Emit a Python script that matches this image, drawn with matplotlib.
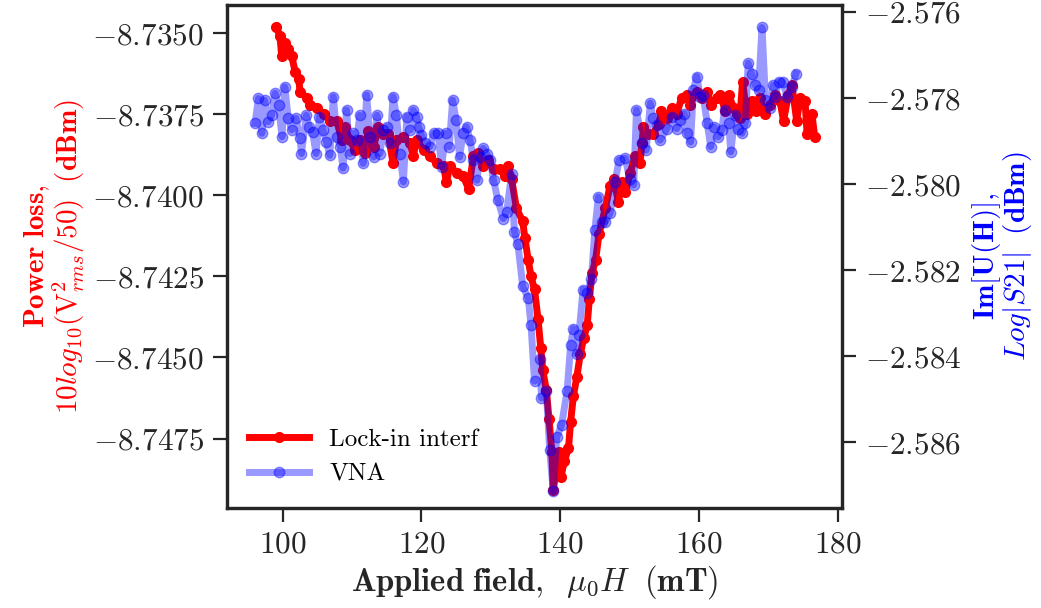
"""
Lock-in interferometer power loss vs VNA transmission across the FMR dip.
"""

import matplotlib
matplotlib.use('Agg')
import matplotlib.pyplot as plt

# Lock-in interf (left axis, dBm)
field_lockin = [99.1, 99.6, 99.85, 100.3, 100.8, 101.3, 101.8, 102.3, 102.5, 103.5,
                103.9, 104.9, 105.9, 106.8, 107.8, 108.5, 109.0, 109.7, 110.4, 111.1,
                111.9, 112.3, 113.1, 113.8, 114.5, 115.2, 115.9, 116.4, 117.4, 118.4,
                118.8, 119.3, 120.3, 121.2, 122.2, 123.2, 123.6, 124.1, 125.1, 126.0,
                126.8, 127.5, 128.2, 128.9, 129.6, 130.4, 131.3, 132.1, 132.5, 133.0,
                133.7, 134.6, 134.9, 135.4, 135.8, 136.3, 136.8, 137.2, 137.5, 138.0,
                138.4, 138.8, 139.0, 139.8, 140.1, 140.6, 141.2, 141.5, 141.9, 142.4,
                142.9, 143.4, 143.9, 144.2, 144.6, 145.1, 145.6, 146.5, 147.2, 147.7,
                148.4, 148.9, 149.4, 150.1, 150.8, 151.5, 151.8, 152.0, 152.7, 153.4,
                154.2, 154.6, 155.4, 156.1, 156.8, 157.5, 158.3, 158.7, 159.7, 160.4,
                161.1, 161.8, 162.6, 163.1, 163.8, 164.3, 165.0, 165.5, 165.9, 166.3,
                166.9, 167.6, 168.3, 168.8, 169.5, 170.3, 171.0, 171.7, 172.2, 172.9,
                173.4, 174.1, 174.6, 175.3, 175.6, 176.3, 176.7]
power_lockin = [-8.7348, -8.7351, -8.7357, -8.7353, -8.7355, -8.7357, -8.7362, -8.7364, -8.7368, -8.7370,
                -8.7372, -8.7373, -8.7375, -8.7377, -8.7377, -8.7383, -8.7379, -8.7383, -8.7386, -8.7383,
                -8.7387, -8.7380, -8.7385, -8.7379, -8.7381, -8.7381, -8.7390, -8.7383, -8.7382, -8.7384,
                -8.7388, -8.7383, -8.7386, -8.7388, -8.7390, -8.7391, -8.7396, -8.7391, -8.7393, -8.7394,
                -8.7398, -8.7388, -8.7387, -8.7391, -8.7389, -8.7392, -8.7392, -8.7394, -8.7391, -8.7395,
                -8.7404, -8.7408, -8.7413, -8.7420, -8.7425, -8.7429, -8.7438, -8.7447, -8.7454, -8.7460,
                -8.7469, -8.7479, -8.7491, -8.7479, -8.7487, -8.7482, -8.7478, -8.7470, -8.7462, -8.7456,
                -8.7449, -8.7444, -8.7440, -8.7432, -8.7424, -8.7420, -8.7412, -8.7404, -8.7397, -8.7395,
                -8.7402, -8.7396, -8.7399, -8.7393, -8.7388, -8.7390, -8.7384, -8.7379, -8.7381, -8.7381,
                -8.7378, -8.7374, -8.7376, -8.7373, -8.7375, -8.7370, -8.7369, -8.7372, -8.7368, -8.7370,
                -8.7368, -8.7372, -8.7370, -8.7369, -8.7374, -8.7369, -8.7373, -8.7375, -8.7376, -8.7365,
                -8.7375, -8.7371, -8.7374, -8.7370, -8.7375, -8.7372, -8.7369, -8.7371, -8.7377, -8.7369,
                -8.7366, -8.7377, -8.7370, -8.7371, -8.7381, -8.7375, -8.7382]

# VNA (right axis, dBm)
field_vna = [96.0, 96.5, 97.0, 97.4, 97.9, 98.4, 98.9, 99.4, 99.9, 100.3,
             100.8, 101.3, 101.9, 102.5, 102.7, 103.4, 103.8, 104.3, 104.8, 105.3,
             105.8, 106.3, 106.8, 107.3, 107.8, 108.3, 108.7, 109.2, 109.7, 110.2,
             110.7, 111.1, 111.6, 112.1, 112.6, 113.1, 113.6, 114.0, 114.5, 115.0,
             115.5, 115.9, 116.4, 116.9, 117.4, 117.9, 118.4, 118.8, 119.3, 119.6,
             120.0, 120.5, 121.2, 121.8, 122.4, 122.9, 123.5, 124.0, 124.5, 125.0,
             125.5, 126.0, 126.5, 127.0, 127.5, 128.0, 128.4, 128.9, 129.4, 129.9,
             130.4, 131.0, 131.8, 132.3, 133.0, 133.4, 133.9, 134.6, 135.4, 135.8,
             136.3, 137.1, 137.3, 138.0, 138.5, 139.0, 139.5, 140.2, 141.0, 141.5,
             141.9, 142.4, 142.7, 143.3, 143.9, 144.5, 145.0, 145.5, 146.0, 146.5,
             147.2, 147.9, 148.5, 149.4, 150.0, 150.6, 151.0, 151.8, 152.4, 153.0,
             153.4, 154.0, 154.4, 155.4, 156.1, 156.8, 157.3, 157.9, 158.3, 158.8,
             159.2, 159.7, 160.2, 160.6, 161.2, 161.7, 162.2, 162.8, 163.3, 163.7,
             164.3, 164.6, 165.2, 165.7, 166.2, 166.7, 167.1, 167.6, 168.1, 168.6,
             169.1, 169.6, 170.2, 170.7, 171.0, 171.5, 172.1, 172.7, 173.4, 174.0]
s21_vna = [-2.57859, -2.57801, -2.57882, -2.57805, -2.57855, -2.57840, -2.57789, -2.57816, -2.57890, -2.57774,
           -2.57847, -2.57874, -2.57847, -2.57894, -2.57929, -2.57840, -2.57867, -2.57878, -2.57929, -2.57843,
           -2.57874, -2.57902, -2.57933, -2.57797, -2.57890, -2.57913, -2.57963, -2.57828, -2.57929, -2.57882,
           -2.57898, -2.57840, -2.57952, -2.57793, -2.57890, -2.57937, -2.57840, -2.57929, -2.57874, -2.57867,
           -2.57905, -2.57797, -2.57840, -2.57929, -2.57995, -2.57843, -2.57874, -2.57828, -2.57843, -2.57867,
           -2.57886, -2.57905, -2.57913, -2.57882, -2.57882, -2.57960, -2.57882, -2.57913, -2.57805, -2.57851,
           -2.57937, -2.57882, -2.57867, -2.57898, -2.57944, -2.57991, -2.57937, -2.57917, -2.57929, -2.57944,
           -2.57991, -2.58036, -2.58080, -2.58064, -2.57977, -2.58111, -2.58139, -2.58237, -2.58265, -2.58328,
           -2.58458, -2.58407, -2.58497, -2.58481, -2.58619, -2.58714, -2.58588, -2.58560, -2.58481, -2.58375,
           -2.58336, -2.58395, -2.58351, -2.58245, -2.58253, -2.58221, -2.58107, -2.58030, -2.58088, -2.58087,
           -2.58068, -2.57995, -2.57944, -2.57940, -2.57987, -2.58002, -2.57828, -2.57905, -2.57921, -2.57812,
           -2.57847, -2.57863, -2.57898, -2.57871, -2.57843, -2.57871, -2.57851, -2.57836, -2.57882, -2.57902,
           -2.57781, -2.57750, -2.57797, -2.57793, -2.57859, -2.57913, -2.57867, -2.57890, -2.57874, -2.57828,
           -2.57859, -2.57925, -2.57840, -2.57871, -2.57882, -2.57859, -2.57719, -2.57743, -2.57770, -2.57781,
           -2.57636, -2.57805, -2.57824, -2.57770, -2.57797, -2.57762, -2.57762, -2.57797, -2.57774, -2.57743]

left_ticks = [-8.7350, -8.7375, -8.7400, -8.7425, -8.7450, -8.7475]
right_ticks = [-2.576, -2.578, -2.580, -2.582, -2.584, -2.586]
x_ticks = [100, 120, 140, 160, 180]

ink = '#262626'
plt.rcParams['font.family'] = 'serif'
plt.rcParams['font.serif'] = ['cmr10']
plt.rcParams['mathtext.fontset'] = 'cm'
plt.rcParams['axes.formatter.use_mathtext'] = True
plt.rcParams['axes.unicode_minus'] = True


def main():
    fig = plt.figure(figsize=(10.41, 6.08), dpi=100)
    ax1 = fig.add_axes([0.2176, 0.164, 0.5917, 0.8283])
    ax2 = ax1.twinx()

    l1, = ax1.plot(field_lockin, power_lockin, color='red', lw=5, marker='o',
                   ms=7, label='Lock-in interf')
    l2, = ax2.plot(field_vna, s21_vna, color='blue', lw=5, marker='o',
                   ms=7.5, alpha=0.4, label='VNA')

    ax1.set_xlim(91.9, 180.7)
    ax1.set_ylim(-8.74965, -8.73412)
    ax2.set_ylim(-2.587535, -2.57583)
    ax1.set_xticks(x_ticks)
    ax1.set_yticks(left_ticks)
    ax2.set_yticks(right_ticks)
    ax1.ticklabel_format(useOffset=False)
    ax2.ticklabel_format(useOffset=False)

    for ax in (ax1, ax2):
        for sp in ax.spines.values():
            sp.set_linewidth(2.3)
            sp.set_color(ink)
        ax.tick_params(length=10, width=1.6, colors=ink, labelsize=22.5, pad=6)

    ax1.set_xlabel(r'$\mathbf{Applied\ field,}\;\ \mu_0H\;\ \mathbf{(mT)}$',
                   fontsize=23.5, color=ink, labelpad=3)
    ax1.set_ylabel('$\\mathbf{Power\\ loss,}$\n$10log_{10}(\\mathrm{V}^2_{rms}/50)\\;\\ \\mathbf{(dBm)}$',
                   fontsize=21, color='red', labelpad=4, linespacing=0.95)
    ax2.set_ylabel('$\\mathbf{Im[U(H)],}$\n$Log|S21|\\;\\ \\mathbf{(dBm)}$',
                   fontsize=21, color='blue', labelpad=6, linespacing=0.95)

    ax2.legend([l1, l2], ['Lock-in interf', 'VNA'], loc='lower left',
               frameon=False, fontsize=18, handlelength=2.4, borderaxespad=0.5)

    fig.savefig('out.png', dpi=100)


if __name__ == '__main__':
    main()
